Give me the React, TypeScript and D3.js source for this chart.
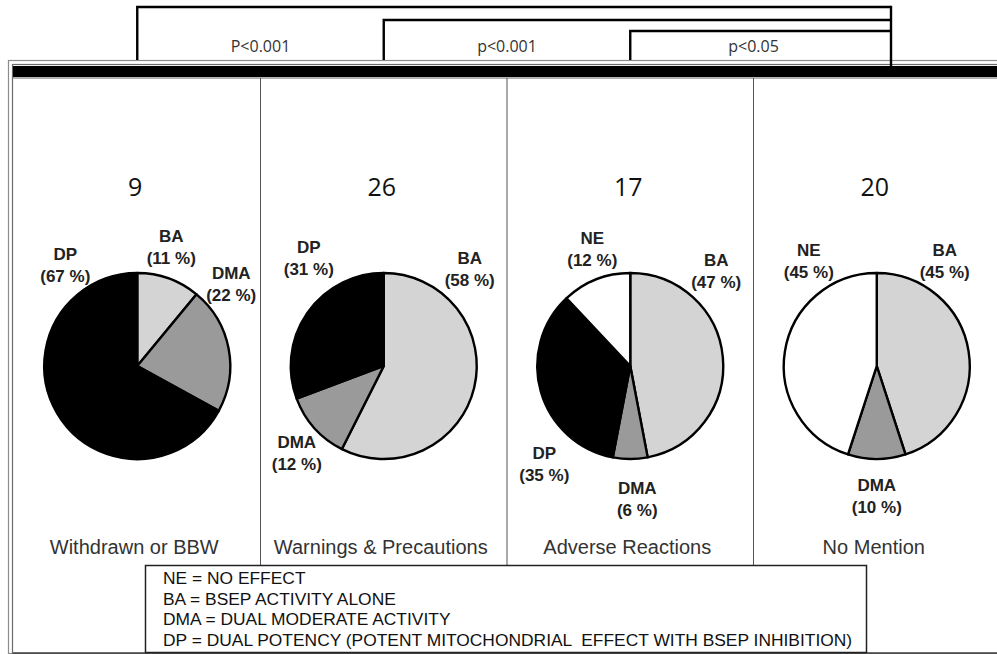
import { useEffect, useRef } from 'react';
import * as d3 from 'd3';

const panelNames = ['Withdrawn or BBW', 'Warnings & Precautions', 'Adverse Reactions', 'No Mention'];
const drugCounts = [9, 26, 17, 20];
const sliceKeys = ['BA', 'DMA', 'DP', 'NE'];
const withdrawnPct = [11, 22, 67, 0];
const warningsPct = [58, 12, 31, 0];
const adversePct = [47, 6, 35, 12];
const noMentionPct = [45, 10, 0, 45];
const pValues = ['P<0.001', 'p<0.001', 'p<0.05'];
const legendLines = [
  'NE = NO EFFECT',
  'BA = BSEP ACTIVITY ALONE',
  'DMA = DUAL MODERATE ACTIVITY',
  'DP = DUAL POTENCY (POTENT MITOCHONDRIAL  EFFECT WITH BSEP INHIBITION)',
];

const sliceColors = { BA: '#d4d4d4', DMA: '#9a9a9a', DP: '#000000', NE: '#ffffff' };

// label anchors relative to the pie centre, placed by hand in the original figure
const labelOffsets = [
  { DP: [-72, -112], BA: [34, -130], DMA: [94, -93] },
  { DP: [-75, -119], BA: [86, -108], DMA: [-87, 76] },
  { NE: [-38, -128], BA: [86, -106], DP: [-86, 87], DMA: [7, 122] },
  { NE: [-68, -116], BA: [68, -116], DMA: [0, 119] },
];

const ARIAL = "'Liberation Sans', Arial, sans-serif";
const CALIBRI = "'Open Sans', sans-serif";

export default function App() {
  const svgRef = useRef(null);

  useEffect(() => {
    document.body.style.margin = '0';
    const svg = d3.select(svgRef.current);
    svg.selectAll('*').remove();
    draw(svg);
  }, []);

  return <svg ref={svgRef} width={997} height={654} style={{ display: 'block' }}></svg>;
}

function draw(svg: any) {
  const W = 997, H = 654;
  const frameTop = 64, bandBottom = 78, frameBottom = 653;
  const pieY = 366, radius = 93;
  const shares = [withdrawnPct, warningsPct, adversePct, noMentionPct];

  const x = d3.scaleBand().domain(panelNames).range([14, 1000]).padding(0);
  const cx = (name: string) => (x(name) as number) + x.bandwidth() / 2;

  svg.append('rect').attr('width', W).attr('height', H).attr('fill', '#fff');

  // frame
  svg.append('rect').attr('x', 8.5).attr('y', 60.5).attr('width', 1000).attr('height', frameBottom - 60)
    .attr('fill', 'none').attr('stroke', '#8c8c8c').attr('stroke-width', 1.2);
  svg.append('rect').attr('x', 12.5).attr('y', frameTop + 0.5).attr('width', 1000).attr('height', frameBottom - frameTop)
    .attr('fill', 'none').attr('stroke', '#6a6a6a').attr('stroke-width', 1.2);
  svg.append('rect').attr('x', 13).attr('y', 66).attr('width', 990).attr('height', 11).attr('fill', '#000');
  svg.append('line').attr('x1', 13).attr('x2', 1000).attr('y1', bandBottom).attr('y2', bandBottom)
    .attr('stroke', '#9a9a9a').attr('stroke-width', 1.5);
  svg.append('line').attr('x1', 13).attr('x2', 1000).attr('y1', frameBottom).attr('y2', frameBottom)
    .attr('stroke', '#444').attr('stroke-width', 1.5);

  // panel dividers
  svg.selectAll('line.divider')
    .data(panelNames.slice(1))
    .enter()
    .append('line')
    .attr('class', 'divider')
    .attr('x1', (d: string) => x(d))
    .attr('x2', (d: string) => x(d))
    .attr('y1', bandBottom)
    .attr('y2', frameBottom)
    .attr('stroke', '#555')
    .attr('stroke-width', 1);

  // significance brackets
  const rightX = 891;
  const levels = [7, 20, 31];
  pValues.forEach((p, i) => {
    const lx = cx(panelNames[i]);
    svg.append('path')
      .attr('d', `M${lx},60 V${levels[i]} H${rightX}`)
      .attr('fill', 'none')
      .attr('stroke', '#000')
      .attr('stroke-width', 2.4);
    svg.append('text')
      .attr('x', x(panelNames[i + 1]))
      .attr('y', 52)
      .attr('text-anchor', 'middle')
      .attr('font-family', CALIBRI)
      .attr('font-size', 16)
      .attr('fill', '#333')
      .text(p);
  });
  svg.append('line').attr('x1', rightX).attr('x2', rightX).attr('y1', levels[0] - 1.2).attr('y2', 68)
    .attr('stroke', '#000').attr('stroke-width', 2.4);

  const pie = d3.pie().sort(null).value((d: any) => d);
  const arc = d3.arc().innerRadius(0).outerRadius(radius);

  panelNames.forEach((name, i) => {
    const px = cx(name);
    const g = svg.append('g').attr('transform', `translate(${px},${pieY})`);
    const arcs = pie(shares[i])
      .map((a: any, k: number) => ({ a, key: sliceKeys[k] }))
      .filter((d: any) => d.a.value > 0);

    g.selectAll('path')
      .data(arcs)
      .enter()
      .append('path')
      .attr('d', (d: any) => arc(d.a))
      .attr('fill', (d: any) => (sliceColors as any)[d.key])
      .attr('stroke', '#000')
      .attr('stroke-width', 2.4)
      .attr('stroke-linejoin', 'round');

    arcs.forEach((d: any) => {
      const off = (labelOffsets[i] as any)[d.key] || [0, 0];
      const dx = off[0], dy = off[1];
      const t = g.append('text')
        .attr('text-anchor', 'middle')
        .attr('font-family', ARIAL)
        .attr('font-weight', 'bold')
        .attr('font-size', 17)
        .attr('fill', '#222');
      t.append('tspan').attr('x', dx).attr('y', dy + 6).text(d.key);
      t.append('tspan').attr('x', dx).attr('y', dy + 28).text(`(${d.a.value} %)`);
    });

    // drug count
    svg.append('text')
      .attr('x', px - 2)
      .attr('y', 196)
      .attr('text-anchor', 'middle')
      .attr('font-family', CALIBRI)
      .attr('font-size', 25)
      .attr('fill', '#111')
      .text(drugCounts[i]);

    // category label
    svg.append('text')
      .attr('x', px - 3)
      .attr('y', 554)
      .attr('text-anchor', 'middle')
      .attr('font-family', ARIAL)
      .attr('font-size', 20)
      .attr('fill', '#333')
      .text(name);
  });

  // legend
  svg.append('rect')
    .attr('x', 145.5).attr('y', 565.5).attr('width', 721).attr('height', 87)
    .attr('fill', '#fff').attr('stroke', '#222').attr('stroke-width', 1.5);
  svg.selectAll('text.legend')
    .data(legendLines)
    .enter()
    .append('text')
    .attr('class', 'legend')
    .attr('x', 163)
    .attr('y', (d: string, i: number) => 584 + i * 20.6)
    .attr('font-family', ARIAL)
    .attr('font-size', 17.4)
    .attr('fill', '#111')
    .style('white-space', 'pre')
    .text((d: string) => d);
}
